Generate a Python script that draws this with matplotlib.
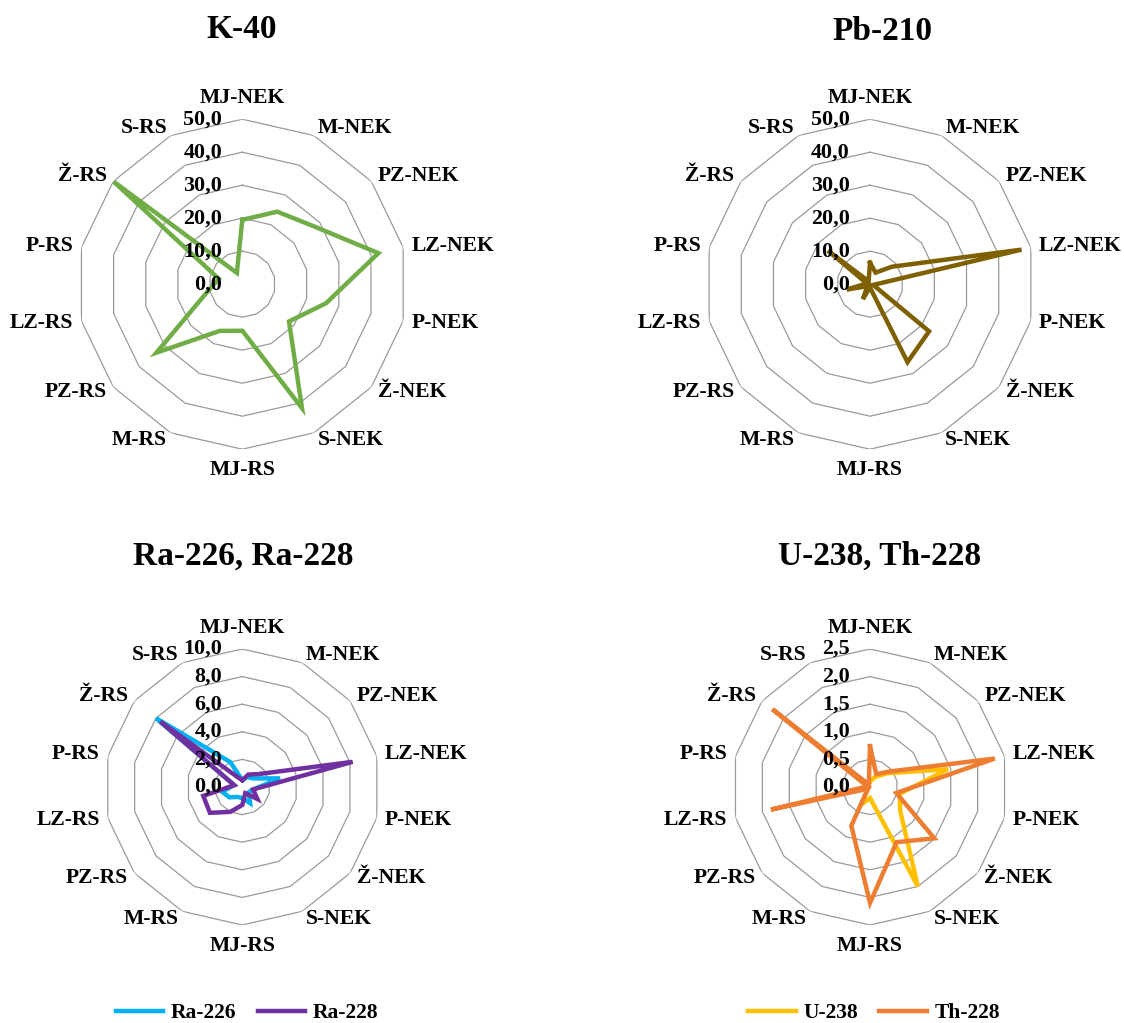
import numpy as np
import matplotlib.pyplot as plt

plt.rcParams['font.family'] = ['Liberation Serif', 'DejaVu Serif']
plt.rcParams['font.weight'] = 'bold'

categories = ['MJ-NEK', 'M-NEK', 'PZ-NEK', 'LZ-NEK', 'P-NEK', 'Ž-NEK', 'S-NEK',
              'MJ-RS', 'M-RS', 'PZ-RS', 'LZ-RS', 'P-RS', 'Ž-RS', 'S-RS']

k40 = [19.5, 24.4, 28.0, 42.3, 26.0, 18.1, 41.7, 14.1, 15.7, 33.3, 11.0, 7.3, 49.9, 3.8]
pb210 = [6.5, 3.9, 8.5, 47.1, 1.0, 22.9, 26.2, 1.0, 5.0, 1.0, 7.2, 1.0, 16.3, 1.0]
ra226 = [0.5, 0.8, 1.0, 2.8, 0.8, 0.6, 1.3, 0.8, 0.8, 1.2, 1.5, 0.6, 8.0, 2.0]
ra228 = [0.5, 1.0, 1.5, 8.2, 0.8, 1.4, 0.5, 1.3, 2.0, 3.0, 2.9, 0.6, 7.6, 0.8]
u238 = [0.1, 0.2, 0.4, 1.45, 0.55, 0.7, 2.0, 0.2, 0.35, 0.05, 0.05, 0.05, 0.05, 0.05]
th228 = [0.74, 0.26, 0.45, 2.32, 0.49, 1.49, 1.11, 2.1, 0.78, 0.05, 1.84, 0.05, 2.26, 0.05]

ticks_big = [0, 10, 20, 30, 40, 50]
ticks_ra = [0, 2, 4, 6, 8, 10]
ticks_uth = [0, 0.5, 1.0, 1.5, 2.0, 2.5]

W, H = 1124, 1023
fig = plt.figure(figsize=(W / 100, H / 100), dpi=100)

n = len(categories)
theta = np.arange(n) * 2 * np.pi / n
theta_c = np.append(theta, theta[0])


def radar(cx, cy, R, ticks, series, title, title_xy):
    ax = fig.add_axes([(cx - R) / W, 1 - (cy + R) / H, 2 * R / W, 2 * R / H],
                      projection='polar')
    ax.set_theta_zero_location('N')
    ax.set_theta_direction(-1)
    ax.set_ylim(0, ticks[-1])
    ax.grid(False)
    ax.set_xticks([])
    ax.set_yticks([])
    ax.spines['polar'].set_visible(False)
    ax.patch.set_visible(False)

    # polygon rings
    for t in ticks[1:]:
        ax.plot(theta_c, [t] * (n + 1), color='#9a9a9a', lw=0.9, zorder=1)

    for vals, col, lab in series:
        ax.plot(theta_c, vals + vals[:1], color=col, lw=3.2, zorder=3,
                solid_joinstyle='miter', label=lab)

    # tick labels along the vertical axis
    for t in ticks:
        s = ('%.1f' % t).replace('.', ',')
        ax.annotate(s, xy=(0, t), xytext=(-14.5, 0), textcoords='offset points',
                    ha='right', va='center', fontsize=15.8, fontweight='bold',
                    zorder=4, annotation_clip=False)

    # category labels
    for th, c in zip(theta, categories):
        sx, cy_ = np.sin(th), np.cos(th)
        if abs(sx) < 0.1:
            ha = 'center'
            va = 'bottom' if cy_ > 0 else 'top'
            off = 8
        else:
            ha = 'left' if sx > 0 else 'right'
            va = 'center'
            off = 6
        ax.annotate(c, xy=(th, ticks[-1]), xytext=(off * sx, off * cy_),
                    textcoords='offset points', ha=ha, va=va,
                    fontsize=15.6, fontweight='bold', annotation_clip=False)

    fig.text(title_xy[0] / W, 1 - title_xy[1] / H, title, ha='center', va='center',
             fontsize=24, fontweight='bold')
    return ax


radar(242.3, 284.2, 165, ticks_big, [(k40, '#70AD47', 'K-40')], 'K-40', (242, 29))
radar(870, 284.2, 165, ticks_big, [(pb210, '#7F6000', 'Pb-210')], 'Pb-210', (882, 32))
ax3 = radar(242.3, 787, 138, ticks_ra,
            [(ra226, '#00B0F0', 'Ra-226'), (ra228, '#7030A0', 'Ra-228')],
            'Ra-226, Ra-228', (243, 556))
ax4 = radar(870, 787, 138, ticks_uth,
            [(u238, '#FFC000', 'U-238'), (th228, '#ED7D31', 'Th-228')],
            'U-238, Th-228', (880, 556))

for ax, xc in [(ax3, 247), (ax4, 874)]:
    h, l = ax.get_legend_handles_labels()
    fig.legend(h, l, loc='center', bbox_to_anchor=(xc / W, 1 - 1013 / H), ncol=2,
               frameon=False, handlelength=2.2, handletextpad=0.35,
               columnspacing=1.0, prop={'weight': 'bold', 'size': 15.5})

fig.savefig('out.png', dpi=100, facecolor='white')
